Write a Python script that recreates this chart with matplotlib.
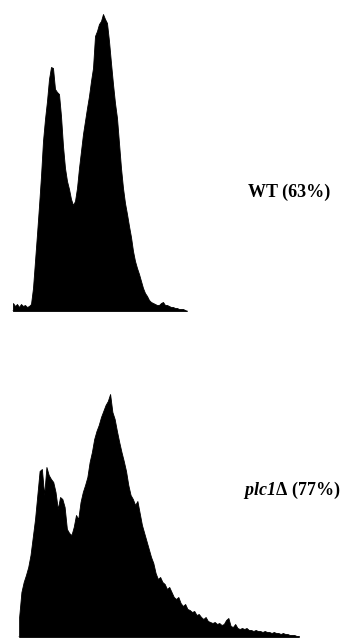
import numpy as np
import matplotlib
matplotlib.use("Agg")
import matplotlib.pyplot as plt

plt.rcParams['mathtext.fontset'] = 'custom'
plt.rcParams['mathtext.bfit'] = 'Liberation Serif:italic:bold'
plt.rcParams['mathtext.rm'] = 'Liberation Serif'

# DNA-content histograms (counts per channel)
wt_counts = [8, 5, 7, 4, 7, 5, 6, 4, 5, 7, 23, 50, 77, 105, 135, 170, 192, 210, 232, 244,
             243, 222, 219, 217, 195, 165, 143, 130, 122, 112, 106, 110, 123, 143, 160, 177,
             190, 203, 215, 230, 243, 275, 280, 287, 290, 297, 292, 288, 270, 248, 227, 208,
             193, 168, 143, 123, 108, 97, 85, 74, 60, 50, 43, 37, 30, 23, 18, 15, 11, 9,
             8, 7, 6, 6, 8, 9, 6, 6, 5, 4, 4, 3, 3, 2, 2, 2, 1, 0]

plc1_counts = [20, 45, 55, 62, 70, 82, 100, 118, 142, 166, 168, 142, 170, 162, 158, 155, 145,
               128, 140, 138, 130, 108, 104, 102, 110, 122, 118, 135, 145, 152, 160, 175, 185,
               198, 206, 212, 220, 226, 232, 236, 243, 225, 218, 206, 195, 185, 176, 166, 152,
               142, 138, 132, 136, 124, 112, 104, 96, 88, 80, 74, 64, 58, 60, 55, 53, 48, 50,
               45, 40, 38, 40, 34, 31, 33, 28, 27, 25, 26, 22, 23, 20, 18, 20, 16, 15, 14, 15,
               13, 14, 12, 13, 17, 19, 11, 10, 13, 9, 8, 9, 8, 9, 7, 7, 6, 7, 6, 6, 5, 6, 5, 5,
               4, 5, 4, 4, 3, 4, 3, 3, 2, 2, 2, 1, 1]

labels = ["WT (63%)", r"$\mathbfit{plc1}$Δ (77%)"]

W, H = 343, 639
fig = plt.figure(figsize=(W / 100, H / 100), dpi=100)


def add_hist(counts, left_px, right_px, baseline_px, height_px, label, tx, ty):
    n = len(counts)
    ax = fig.add_axes([left_px / W, (H - baseline_px) / H, (right_px - left_px) / W, height_px / H])
    x = np.arange(n)
    ax.fill_between(x, 0, counts, color='black', linewidth=0.6, edgecolor='black')
    ax.plot([-0.5, n - 0.5], [0, 0], color='black', lw=1.0)
    ax.set_xlim(-0.5, n - 0.5)
    ax.set_ylim(0, height_px)
    ax.axis('off')
    fig.text(tx / W, 1 - ty / H, label, fontsize=13, fontweight='bold',
             family='Liberation Serif', va='center', ha='left')


add_hist(wt_counts, 12, 188, 311, 299, labels[0], 248, 192)
add_hist(plc1_counts, 18, 300, 637, 300, labels[1], 243, 490)

fig.savefig("out.png", dpi=100)
